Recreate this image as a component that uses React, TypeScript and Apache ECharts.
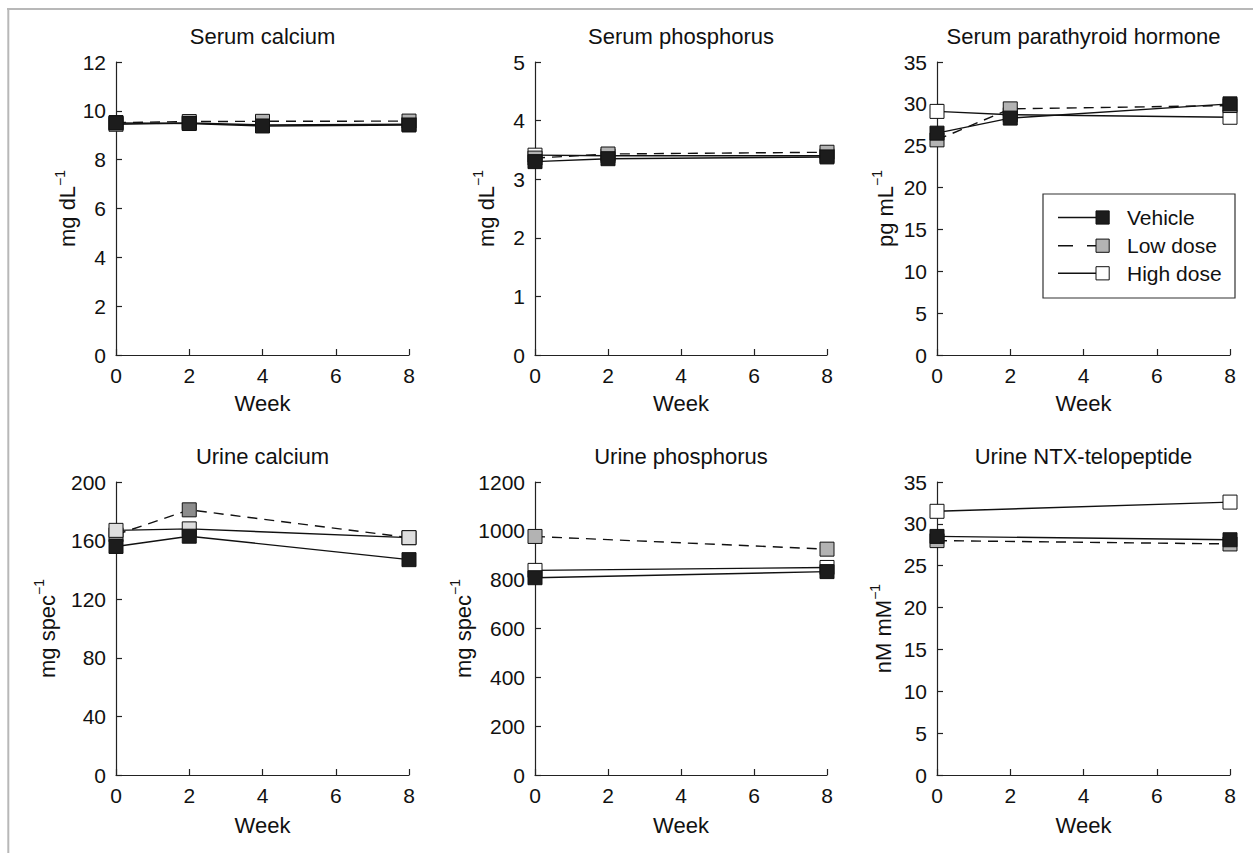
import React, { useEffect, useRef } from 'react';
import * as echarts from 'echarts';

// ---------- data ----------
const seriesNames = ['Vehicle', 'Low dose', 'High dose'];

const weeksSerumCalcium = [0, 2, 4, 8];
const serumCalciumVehicle = [9.5, 9.48, 9.38, 9.42];
const serumCalciumLow = [9.52, 9.56, 9.57, 9.58];
const serumCalciumHigh = [9.45, 9.5, 9.42, 9.45];

const weeksSerumPhosphorus = [0, 2, 8];
const serumPhosphorusVehicle = [3.3, 3.35, 3.38];
const serumPhosphorusLow = [3.36, 3.43, 3.46];
const serumPhosphorusHigh = [3.41, 3.4, 3.4];

const weeksPTH = [0, 2, 8];
const pthVehicle = [26.5, 28.3, 30.0];
const pthLow = [25.7, 29.4, 29.8];
const pthHigh = [29.1, 28.7, 28.4];

const weeksUrineCalcium = [0, 2, 8];
const urineCalciumVehicle = [156, 163, 147];
const urineCalciumLow = [164, 181, 162];
const urineCalciumHigh = [167, 168, 162];

const weeksUrinePhosphorus = [0, 8];
const urinePhosphorusVehicle = [808, 833];
const urinePhosphorusLow = [977, 925];
const urinePhosphorusHigh = [838, 850];

const weeksNTX = [0, 8];
const ntxVehicle = [28.5, 28.1];
const ntxLow = [28.0, 27.6];
const ntxHigh = [31.5, 32.6];

const panelTitles = [
  'Serum calcium',
  'Serum phosphorus',
  'Serum parathyroid hormone',
  'Urine calcium',
  'Urine phosphorus',
  'Urine NTX-telopeptide',
];
const yUnits = ['mg dL', 'mg dL', 'pg mL', 'mg spec', 'mg spec', 'nM mM'];
const yMax = [12, 5, 35, 200, 1200, 35];
const yStep = [2, 1, 5, 40, 200, 5];
const xMin = 0;
const xMax = 8;
const xStep = 2;
const xName = 'Week';

const panelWeeks = [
  weeksSerumCalcium,
  weeksSerumPhosphorus,
  weeksPTH,
  weeksUrineCalcium,
  weeksUrinePhosphorus,
  weeksNTX,
];
const panelValues = [
  [serumCalciumVehicle, serumCalciumLow, serumCalciumHigh],
  [serumPhosphorusVehicle, serumPhosphorusLow, serumPhosphorusHigh],
  [pthVehicle, pthLow, pthHigh],
  [urineCalciumVehicle, urineCalciumLow, urineCalciumHigh],
  [urinePhosphorusVehicle, urinePhosphorusLow, urinePhosphorusHigh],
  [ntxVehicle, ntxLow, ntxHigh],
];

// ---------- layout / style ----------
const FONT = '"Liberation Sans", Arial, Helvetica, sans-serif';
const INK = '#111';
const colLeft = [116, 535, 937];
const colWidth = [293, 292, 293];
const rowTop = [62, 482];
const plotHeight = 293;
const titleTop = [25, 445];
const yNameGap = [33, 34, 37, 54, 56, 39];
const xNameGap = [37, 37, 37, 39, 39, 39];

const fillDefault = ['#1c1c1c', '#b3b3b3', '#ffffff'];
const fillUrineCalcium = ['#1c1c1c', '#8c8c8c', '#dedede'];

const plainNumber = (v: number) => String(v);

function buildOption() {
  const grid: any[] = [];
  const xAxis: any[] = [];
  const yAxis: any[] = [];
  const title: any[] = [];
  const series: any[] = [];

  for (let i = 0; i < 6; i++) {
    const col = i % 3;
    const row = Math.floor(i / 3);
    grid.push({
      left: colLeft[col],
      top: rowTop[row],
      width: colWidth[col],
      height: plotHeight,
      containLabel: false,
    });
    title.push({
      text: panelTitles[i],
      left: colLeft[col] + colWidth[col] / 2,
      top: titleTop[row],
      textAlign: 'center',
      padding: 0,
      textStyle: { fontFamily: FONT, fontSize: 22, fontWeight: 'normal', color: INK },
    });
    xAxis.push({
      type: 'value',
      gridIndex: i,
      min: xMin,
      max: xMax,
      interval: xStep,
      name: xName,
      nameLocation: 'middle',
      nameGap: xNameGap[i],
      nameTextStyle: { fontFamily: FONT, fontSize: 22, color: INK },
      axisLine: { show: true, onZero: false, lineStyle: { color: '#222', width: 1.2 } },
      axisTick: { show: true, inside: true, length: 6, lineStyle: { color: '#222', width: 1.2 } },
      axisLabel: { fontFamily: FONT, fontSize: 21, color: INK, margin: 10, formatter: plainNumber },
      splitLine: { show: false },
    });
    yAxis.push({
      type: 'value',
      gridIndex: i,
      min: 0,
      max: yMax[i],
      interval: yStep[i],
      name: `{m|${yUnits[i]}}{s|\u22121}`,
      nameLocation: 'middle',
      nameRotate: 90,
      nameGap: yNameGap[i],
      nameTextStyle: {
        rich: {
          m: { fontFamily: FONT, fontSize: 22, color: INK, lineHeight: 30 },
          s: { fontFamily: FONT, fontSize: 14, color: INK, lineHeight: 10, verticalAlign: 'top' },
        },
      },
      axisLine: { show: true, onZero: false, lineStyle: { color: '#222', width: 1.2 } },
      axisTick: { show: true, inside: true, length: 6, lineStyle: { color: '#222', width: 1.2 } },
      axisLabel: { fontFamily: FONT, fontSize: 21, color: INK, margin: 10, formatter: plainNumber },
      splitLine: { show: false },
    });

    const fills = i === 3 ? fillUrineCalcium : fillDefault;
    // draw order: High (bottom), Low, Vehicle (top)
    const order = i === 3 ? [1, 2, 0] : [2, 1, 0];
    order.forEach((s, k) => {
      series.push({
        type: 'line',
        name: seriesNames[s],
        xAxisIndex: i,
        yAxisIndex: i,
        clip: false,
        z: 2 + k,
        data: panelWeeks[i].map((w, j) => [w, panelValues[i][s][j]]),
        symbol: 'rect',
        symbolSize: 14,
        showSymbol: true,
        itemStyle: { color: fills[s], borderColor: '#111', borderWidth: 1 },
        lineStyle: { color: '#111', width: 1.4, type: s === 1 ? [10, 7] : 'solid' },
        emphasis: { disabled: true },
      });
    });
  }

  // legend drawn in the third panel
  const legendX = 1043;
  const legendY = 194;
  const legendRows = [217.5, 245.7, 273.3];
  const legendChildren: any[] = [
    {
      type: 'rect',
      shape: { x: legendX, y: legendY, width: 192, height: 104 },
      style: { fill: '#fff', stroke: '#333', lineWidth: 1.2 },
    },
  ];
  legendRows.forEach((cy, s) => {
    legendChildren.push({
      type: 'line',
      shape: { x1: 1058, y1: cy, x2: 1097, y2: cy },
      style: { stroke: '#111', lineWidth: 1.4, lineDash: s === 1 ? [15, 14] : null },
    });
    legendChildren.push({
      type: 'rect',
      shape: { x: 1096, y: cy - 6.6, width: 13.2, height: 13.2 },
      style: { fill: fillDefault[s], stroke: '#111', lineWidth: 1 },
    });
    legendChildren.push({
      type: 'text',
      x: 1127,
      y: cy,
      style: {
        text: seriesNames[s],
        fontFamily: FONT,
        fontSize: 21,
        fill: INK,
        textAlign: 'left',
        textVerticalAlign: 'middle',
      },
    });
  });

  const graphic: any[] = [
    {
      type: 'line',
      shape: { x1: 7, y1: 9, x2: 1253, y2: 9 },
      style: { stroke: '#b8b8b8', lineWidth: 2 },
      z: 0,
    },
    {
      type: 'line',
      shape: { x1: 8.3, y1: 8, x2: 8.3, y2: 853 },
      style: { stroke: '#b8b8b8', lineWidth: 2 },
      z: 0,
    },
    { type: 'group', children: legendChildren, z: 100 },
  ];

  return {
    animation: false,
    backgroundColor: '#ffffff',
    title,
    grid,
    xAxis,
    yAxis,
    series,
    graphic,
  };
}

export default function App() {
  const ref = useRef<HTMLDivElement>(null);
  useEffect(() => {
    if (!ref.current) return;
    const chart = echarts.init(ref.current, null, { renderer: 'svg' });
    chart.setOption(buildOption() as any);
    return () => chart.dispose();
  }, []);
  return (
    <div
      ref={ref}
      style={{ position: 'absolute', left: 0, top: 0, width: 1253, height: 853 }}
    />
  );
}
